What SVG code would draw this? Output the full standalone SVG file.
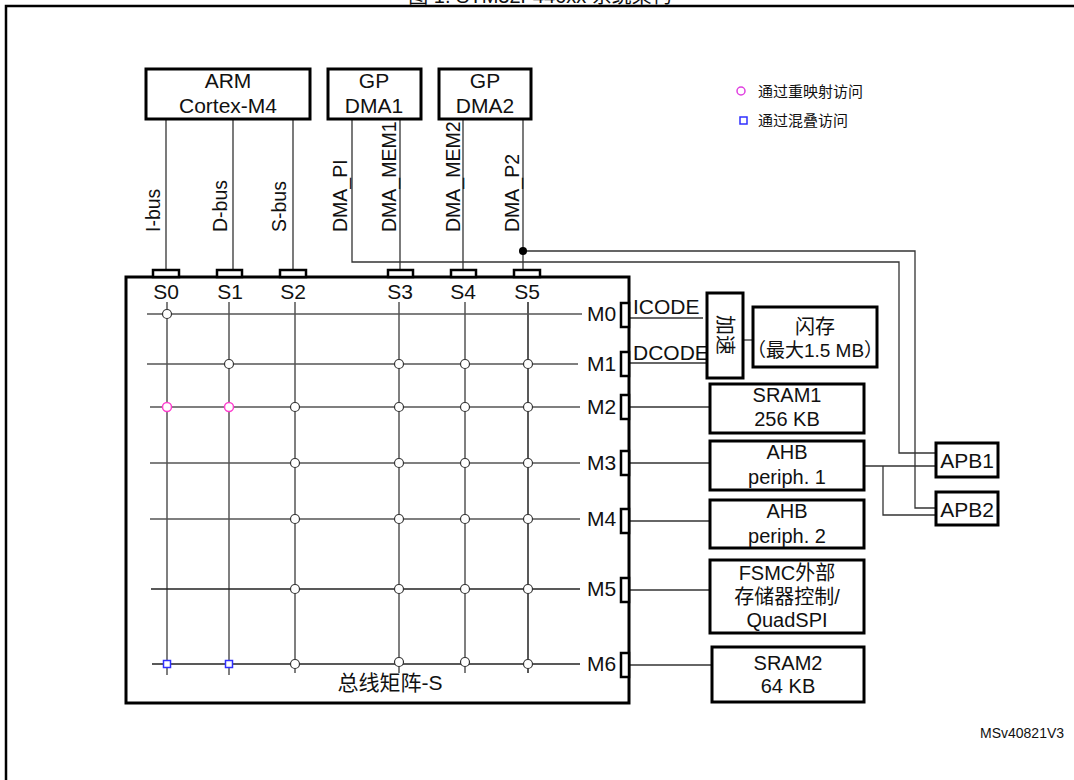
<svg xmlns="http://www.w3.org/2000/svg" width="1074" height="780" viewBox="0 0 1074 780">
<style>
text{font-family:"Liberation Sans","Noto Sans CJK SC",sans-serif;fill:#111}
.t20{font-size:21px}
.t18{font-size:20px}
.rot{font-size:19.5px}
.mid{text-anchor:middle}
.box{fill:#fff;stroke:#000;stroke-width:3}
.port{fill:#fff;stroke:#000;stroke-width:2.5}
.ln{fill:none;stroke:#333;stroke-width:1.3}
.gl{fill:none;stroke:#555;stroke-width:1.5}
.j{fill:#fff;stroke:#333;stroke-width:1.2}
</style>
<rect x="0" y="0" width="1074" height="780" fill="#fff"/>
<text class="mid" x="540" y="3" style="font-size:20px">图 1. STM32F446xx 系统架构</text>
<rect x="6" y="6" width="1100" height="800" fill="none" stroke="#000" stroke-width="2.5"/>

<g id="connectors">
  <line class="ln" x1="166" y1="119" x2="166" y2="271"/>
  <line class="ln" x1="233" y1="119" x2="233" y2="271"/>
  <line class="ln" x1="293" y1="119" x2="293" y2="271"/>
  <line class="ln" x1="400" y1="119" x2="400" y2="271"/>
  <line class="ln" x1="463" y1="119" x2="463" y2="271"/>
  <line class="ln" x1="523" y1="119" x2="523" y2="271"/>
  <polyline class="ln" points="352,119 352,262 899,262 899,453 936,453"/>
  <polyline class="ln" points="523,251 915,251 915,508 936,508"/>
  <circle cx="523" cy="251" r="4" fill="#000"/>
  <line class="ln" x1="864" y1="466" x2="936" y2="466"/>
  <polyline class="ln" points="883,466 883,515 936,515"/>
  <line class="ln" x1="630" y1="318" x2="703" y2="318"/>
  <line class="ln" x1="630" y1="363" x2="707" y2="363"/>
  <line class="ln" x1="743" y1="340" x2="753" y2="340"/>
  <line class="ln" x1="630" y1="407" x2="710" y2="407"/>
  <line class="ln" x1="630" y1="463" x2="710" y2="463"/>
  <line class="ln" x1="630" y1="521" x2="710" y2="521"/>
  <line class="ln" x1="630" y1="590" x2="710" y2="590"/>
  <line class="ln" x1="630" y1="665" x2="712" y2="665"/>
</g>

<g id="bus-labels">
  <text class="rot" transform="translate(160,232) rotate(-90)">I-bus</text>
  <text class="rot" transform="translate(227,232) rotate(-90)">D-bus</text>
  <text class="rot" transform="translate(286,232) rotate(-90)">S-bus</text>
  <text class="rot" transform="translate(347,232) rotate(-90)">DMA_PI</text>
  <text class="rot" transform="translate(396,232) rotate(-90)">DMA_MEM1</text>
  <text class="rot" transform="translate(460,232) rotate(-90)">DMA_MEM2</text>
  <text class="rot" transform="translate(519,232) rotate(-90)">DMA_P2</text>
</g>

<g id="cortex">
  <rect class="box" x="146" y="69" width="164" height="50"/>
  <text class="t20 mid" x="228" y="88">ARM</text>
  <text class="t20 mid" x="228" y="113">Cortex-M4</text>
</g>
<g id="dma1">
  <rect class="box" x="328" y="69" width="93" height="50"/>
  <text class="t20 mid" x="374" y="88">GP</text>
  <text class="t20 mid" x="374" y="113">DMA1</text>
</g>
<g id="dma2">
  <rect class="box" x="439" y="69" width="92" height="50"/>
  <text class="t20 mid" x="485" y="88">GP</text>
  <text class="t20 mid" x="485" y="113">DMA2</text>
</g>

<g id="legend">
  <circle cx="741" cy="91" r="4" fill="#fff" stroke="#e040e0" stroke-width="1.5"/>
  <text x="758" y="97" style="font-size:15px">通过重映射访问</text>
  <rect x="740" y="117" width="7" height="7" fill="#fff" stroke="#3030ff" stroke-width="1.5"/>
  <text x="758" y="126" style="font-size:15px">通过混叠访问</text>
</g>

<g id="bus-matrix">
  <rect x="126" y="277" width="503" height="426" fill="#fff" stroke="#000" stroke-width="3"/>
  <rect class="port" x="153" y="270" width="26" height="7"/>
  <rect class="port" x="217" y="270" width="25" height="7"/>
  <rect class="port" x="280" y="270" width="26" height="7"/>
  <rect class="port" x="388" y="270" width="25" height="7"/>
  <rect class="port" x="451" y="270" width="25" height="7"/>
  <rect class="port" x="514" y="270" width="26" height="7"/>
  <text class="t20 mid" x="166" y="299">S0</text>
  <text class="t20 mid" x="230" y="299">S1</text>
  <text class="t20 mid" x="293" y="299">S2</text>
  <text class="t20 mid" x="400" y="299">S3</text>
  <text class="t20 mid" x="463" y="299">S4</text>
  <text class="t20 mid" x="527" y="299">S5</text>
  <g class="gl">
    <line x1="167" y1="302" x2="167" y2="675"/>
    <line x1="229" y1="302" x2="229" y2="675"/>
    <line x1="295" y1="302" x2="295" y2="673"/>
    <line x1="399" y1="302" x2="399" y2="673"/>
    <line x1="465" y1="302" x2="465" y2="673"/>
    <line x1="528" y1="302" x2="528" y2="673" stroke="#222"/>
    <line x1="147" y1="314" x2="582" y2="314"/>
    <line x1="147" y1="364" x2="578" y2="364"/>
    <line x1="150" y1="407" x2="580" y2="407"/>
    <line x1="150" y1="463" x2="580" y2="463"/>
    <line x1="150" y1="519" x2="580" y2="519"/>
    <line x1="151" y1="589" x2="580" y2="589" stroke="#222"/>
    <line x1="152" y1="664" x2="580" y2="664" stroke="#222"/>
  </g>
  <g id="junctions">
    <circle class="j" cx="167" cy="314" r="4.5"/>
    <circle class="j" cx="229" cy="364" r="4.5"/>
    <circle class="j" cx="399" cy="364" r="4.5"/>
    <circle class="j" cx="465" cy="364" r="4.5"/>
    <circle class="j" cx="528" cy="364" r="4.5"/>
    <circle cx="167" cy="407" r="4.5" fill="#fff" stroke="#ff40d0" stroke-width="1.5"/>
    <circle cx="229" cy="407" r="4.5" fill="#fff" stroke="#ff40d0" stroke-width="1.5"/>
    <circle class="j" cx="295" cy="407" r="4.5"/>
    <circle class="j" cx="399" cy="407" r="4.5"/>
    <circle class="j" cx="465" cy="407" r="4.5"/>
    <circle class="j" cx="528" cy="407" r="4.5"/>
    <circle class="j" cx="295" cy="463" r="4.5"/>
    <circle class="j" cx="399" cy="463" r="4.5"/>
    <circle class="j" cx="465" cy="463" r="4.5"/>
    <circle class="j" cx="528" cy="463" r="4.5"/>
    <circle class="j" cx="295" cy="519" r="4.5"/>
    <circle class="j" cx="399" cy="519" r="4.5"/>
    <circle class="j" cx="465" cy="519" r="4.5"/>
    <circle class="j" cx="528" cy="519" r="4.5"/>
    <circle class="j" cx="295" cy="589" r="4.5"/>
    <circle class="j" cx="399" cy="589" r="4.5"/>
    <circle class="j" cx="465" cy="589" r="4.5"/>
    <circle class="j" cx="528" cy="589" r="4.5"/>
    <rect x="163.5" y="660.5" width="7" height="7" fill="#fff" stroke="#3030ff" stroke-width="1.5"/>
    <rect x="225.5" y="660.5" width="7" height="7" fill="#fff" stroke="#3030ff" stroke-width="1.5"/>
    <circle class="j" cx="295" cy="664" r="4.5"/>
    <circle class="j" cx="399" cy="662" r="4.5"/>
    <circle class="j" cx="465" cy="662" r="4.5"/>
    <circle class="j" cx="528" cy="664" r="4.5"/>
  </g>
  <text class="t20" x="587" y="321">M0</text>
  <text class="t20" x="587" y="371">M1</text>
  <text class="t20" x="587" y="414">M2</text>
  <text class="t20" x="587" y="470">M3</text>
  <text class="t20" x="587" y="526">M4</text>
  <text class="t20" x="587" y="596">M5</text>
  <text class="t20" x="587" y="671">M6</text>
  <rect class="port" x="621" y="303" width="8" height="24"/>
  <rect class="port" x="621" y="352" width="8" height="24"/>
  <rect class="port" x="621" y="395" width="8" height="24"/>
  <rect class="port" x="621" y="451" width="8" height="24"/>
  <rect class="port" x="621" y="509" width="8" height="24"/>
  <rect class="port" x="621" y="578" width="8" height="24"/>
  <rect class="port" x="621" y="653" width="8" height="24"/>
  <text class="mid" x="390" y="690" style="font-size:21px">总线矩阵-S</text>
</g>

<text class="t20" x="633" y="314">ICODE</text>
<text class="t20" x="633" y="360">DCODE</text>

<g id="accel">
  <rect class="box" x="707" y="293" width="36" height="85"/>
  <text class="mid" transform="translate(725,335) rotate(90)" dy="7" style="font-size:20px">加速</text>
</g>
<g id="flash">
  <rect class="box" x="753" y="307" width="124" height="60"/>
  <text class="t18 mid" x="815" y="334">闪存</text>
  <text class="mid" x="815" y="357" style="font-size:19px">（最大1.5 MB）</text>
</g>
<g id="sram1">
  <rect class="box" x="710" y="384" width="154" height="49"/>
  <text class="t18 mid" x="787" y="402">SRAM1</text>
  <text class="t18 mid" x="787" y="426">256 KB</text>
</g>
<g id="ahb1">
  <rect class="box" x="710" y="441" width="154" height="49"/>
  <text class="t18 mid" x="787" y="459">AHB</text>
  <text class="t18 mid" x="787" y="484">periph. 1</text>
</g>
<g id="ahb2">
  <rect class="box" x="710" y="500" width="154" height="48"/>
  <text class="t18 mid" x="787" y="518">AHB</text>
  <text class="t18 mid" x="787" y="543">periph. 2</text>
</g>
<g id="fsmc">
  <rect class="box" x="710" y="560" width="154" height="73"/>
  <text class="t18 mid" x="787" y="580">FSMC外部</text>
  <text class="t18 mid" x="787" y="604">存储器控制/</text>
  <text class="t18 mid" x="787" y="627">QuadSPI</text>
</g>
<g id="sram2">
  <rect class="box" x="712" y="647" width="152" height="55"/>
  <text class="t18 mid" x="788" y="670">SRAM2</text>
  <text class="t18 mid" x="788" y="693">64 KB</text>
</g>
<g id="apb1">
  <rect class="box" x="936" y="443" width="62" height="34"/>
  <text class="mid" x="967" y="468" style="font-size:21px">APB1</text>
</g>
<g id="apb2">
  <rect class="box" x="936" y="492" width="62" height="33"/>
  <text class="mid" x="967" y="517" style="font-size:21px">APB2</text>
</g>
<text x="980" y="738" style="font-size:14px">MSv40821V3</text>
</svg>
